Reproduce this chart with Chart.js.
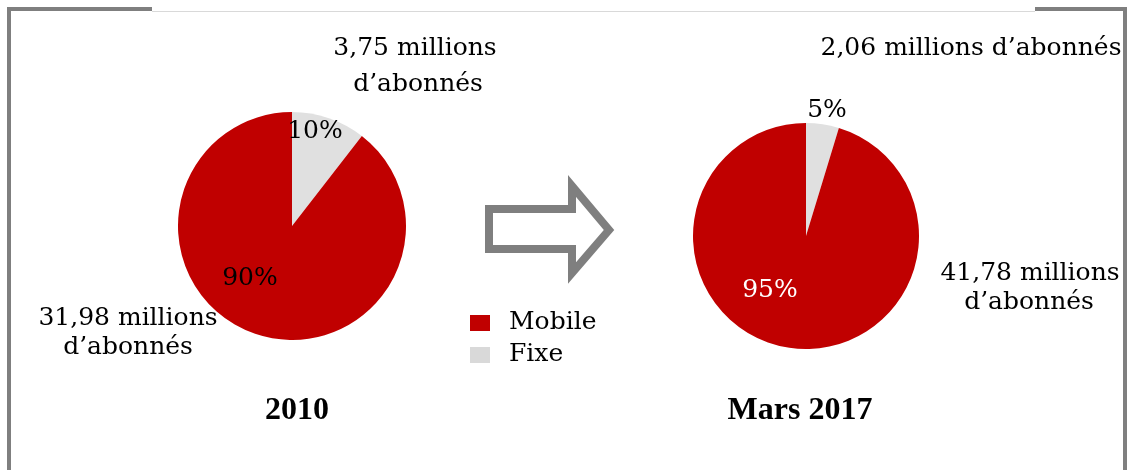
<!DOCTYPE html>
<html>
<head>
<meta charset="utf-8">
<script src="https://cdn.jsdelivr.net/npm/chart.js@4/dist/chart.umd.min.js"></script>
<style>
    body { margin: 0; background: #fff; }
    #stage { position: relative; width: 1130px; height: 470px; overflow: hidden; font-family: 'DejaVu Serif', serif; color: #000; }
    .box { position: absolute; }
    .txt { position: absolute; white-space: nowrap; transform: translate(-50%, -50%); font-size: 25px; line-height: 30px; }
    .title { font-family: 'Liberation Serif', serif; font-weight: bold; font-size: 32px; }
    .frame { position: absolute; background: #7f7f7f; }
</style>
</head>
<body>
<div id="stage">
    <!-- frame -->
    <div class="frame" style="left:7px; top:7px; width:4px; height:470px;"></div>
    <div class="frame" style="left:1123px; top:7px; width:4px; height:470px;"></div>
    <div class="frame" style="left:7px; top:7px; width:145px; height:4px;"></div>
    <div class="frame" style="left:1035px; top:7px; width:92px; height:4px;"></div>
    <div class="frame" style="left:152px; top:11px; width:883px; height:1px; background:#d9d9d9;"></div>

    <div class="box" style="left:178px; top:112px; width:228px; height:228px;"><canvas id="pie2010"></canvas></div>
    <div class="box" style="left:693px; top:123px; width:226px; height:226px;"><canvas id="pie2017"></canvas></div>

    <svg class="box" style="left:0; top:0;" width="1130" height="470">
        <polygon points="489,209 572,209 572,186 609,230 572,273 572,249 489,249"
                 fill="none" stroke="#7f7f7f" stroke-width="8" stroke-linejoin="miter"/>
    </svg>

    <div id="labels"></div>
</div>

<script>
// Data
const periods = ['2010', 'Mars 2017'];
const categories = ['Mobile', 'Fixe'];
const mobileSubs = [31.98, 41.78];   // millions d'abonnés
const fixeSubs = [3.75, 2.06];

const RED = '#c00000';
const GREY = '#e0e0e0';
const LEGEND_GREY = '#d9d9d9';

function fmt(v) {
    return v.toFixed(2).replace('.', ',');
}

function pct(v, total) {
    return Math.round(v / total * 100) + '%';
}

function addText(text, x, y, extra) {
    const el = document.createElement('div');
    el.className = 'txt' + (extra && extra.cls ? ' ' + extra.cls : '');
    el.textContent = text;
    el.style.left = x + 'px';
    el.style.top = y + 'px';
    if (extra && extra.color) el.style.color = extra.color;
    document.getElementById('labels').appendChild(el);
}

function makePie(id, i) {
    const ctx = document.getElementById(id).getContext('2d');
    return new Chart(ctx, {
        type: 'pie',
        data: {
            // Fixe first so it starts at 12 o'clock going clockwise
            labels: [categories[1], categories[0]],
            datasets: [{
                data: [fixeSubs[i], mobileSubs[i]],
                backgroundColor: [GREY, RED],
                borderWidth: 0
            }]
        },
        options: {
            responsive: true,
            maintainAspectRatio: false,
            animation: false,
            layout: { padding: 0 },
            plugins: {
                legend: { display: false },
                tooltip: { enabled: false }
            }
        }
    });
}

makePie('pie2010', 0);
makePie('pie2017', 1);

// Annotations, 2010
const tot0 = mobileSubs[0] + fixeSubs[0];
addText(fmt(fixeSubs[0]) + ' millions', 415, 47);
addText('d\u2019abonnés', 418, 83);
addText(pct(fixeSubs[0], tot0), 315, 130);
addText(pct(mobileSubs[0], tot0), 250, 277);
addText(fmt(mobileSubs[0]) + ' millions', 128, 317);
addText('d\u2019abonnés', 128, 346);
addText(periods[0], 297, 408, { cls: 'title' });

// Annotations, Mars 2017
const tot1 = mobileSubs[1] + fixeSubs[1];
addText(fmt(fixeSubs[1]) + ' millions d\u2019abonnés', 971, 47);
addText(pct(fixeSubs[1], tot1), 827, 109);
addText(pct(mobileSubs[1], tot1), 770, 289, { color: '#fff' });
addText(fmt(mobileSubs[1]) + ' millions', 1030, 272);
addText('d\u2019abonnés', 1029, 301);
addText(periods[1], 800, 408, { cls: 'title' });

// Legend
const legendItems = [[categories[0], RED, 323], [categories[1], LEGEND_GREY, 355]];
legendItems.forEach(([name, color, y]) => {
    const sw = document.createElement('div');
    sw.style.cssText = `position:absolute;left:470px;top:${y - 8}px;width:20px;height:16px;background:${color};`;
    document.getElementById('labels').appendChild(sw);
    const t = document.createElement('div');
    t.className = 'txt';
    t.textContent = name;
    t.style.left = '509px';
    t.style.top = (y - 2) + 'px';
    t.style.transform = 'translate(0, -50%)';
    document.getElementById('labels').appendChild(t);
});
</script>
</body>
</html>
